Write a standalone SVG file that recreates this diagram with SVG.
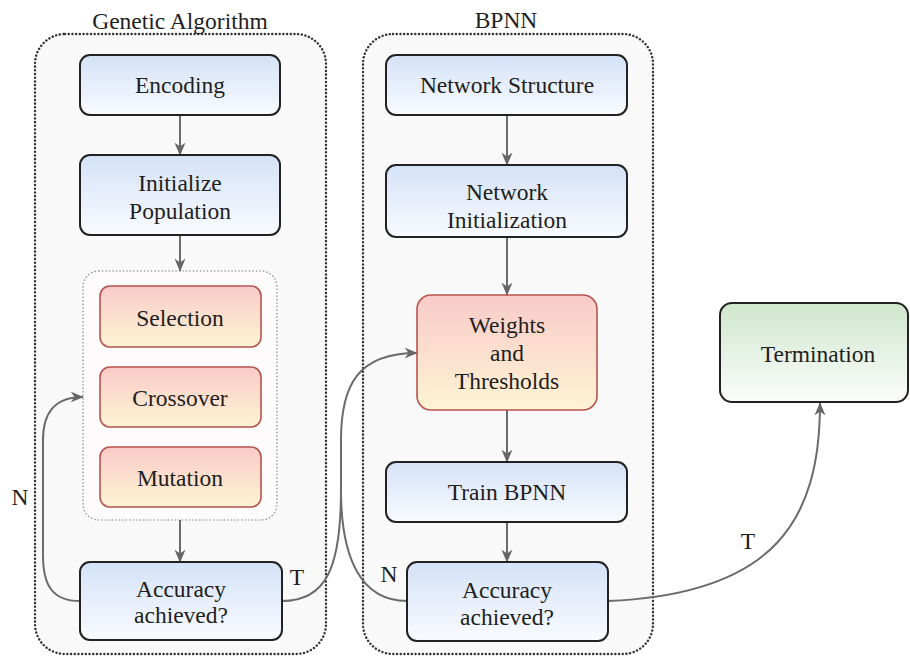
<svg xmlns="http://www.w3.org/2000/svg" width="910" height="657" viewBox="0 0 910 657">
  <defs>
    <linearGradient id="gBlue" x1="0" y1="0" x2="0" y2="1">
      <stop offset="0" stop-color="#d4e2f7"/>
      <stop offset="1" stop-color="#f9fbff"/>
    </linearGradient>
    <linearGradient id="gRed" x1="0" y1="0" x2="0" y2="1">
      <stop offset="0" stop-color="#f8cbc8"/>
      <stop offset="1" stop-color="#fff4d4"/>
    </linearGradient>
    <linearGradient id="gGreen" x1="0" y1="0" x2="0" y2="1">
      <stop offset="0" stop-color="#cfe6cd"/>
      <stop offset="1" stop-color="#fbfdfb"/>
    </linearGradient>
    <marker id="arr" viewBox="0 0 10 10" refX="9.5" refY="5" markerWidth="13" markerHeight="13" orient="auto" markerUnits="userSpaceOnUse">
      <path d="M0,0.8 L10,5 L0,9.2 L3,5 z" fill="#666"/>
    </marker>
  </defs>
  <style>
    text { font-family: 'Liberation Serif', 'Times New Roman', serif; font-size: 23.5px; fill: #1e1e1e; text-anchor: middle; }
    .cont { fill: #f9f9f9; stroke: #333; stroke-width: 2.4; stroke-dasharray: 0.1 3.6; stroke-linecap: round; }
    .inner { fill: #fdfbfb; stroke: #999; stroke-width: 1.6; stroke-dasharray: 0.1 3.4; stroke-linecap: round; }
    .blue { fill: url(#gBlue); stroke: #222; stroke-width: 2; }
    .red { fill: url(#gRed); stroke: #b85450; stroke-width: 1.6; }
    .green { fill: url(#gGreen); stroke: #222; stroke-width: 2; }
    .c { fill: none; stroke: #6b6b6b; stroke-width: 2; }
    .ca { fill: none; stroke: #6b6b6b; stroke-width: 2; marker-end: url(#arr); }
  </style>
  <rect width="910" height="657" fill="#ffffff"/>

  <!-- Containers -->
  <g id="ga-container">
    <rect class="cont" x="35" y="34" width="291" height="620" rx="30" ry="30"/>
    <text x="180" y="29">Genetic Algorithm</text>
  </g>
  <g id="bpnn-container">
    <rect class="cont" x="363" y="34" width="290" height="620" rx="30" ry="30"/>
    <text x="506" y="28">BPNN</text>
  </g>
  <g id="ga-operators">
    <rect class="inner" x="83" y="271" width="194" height="249" rx="16" ry="16"/>
  </g>

  <!-- Connectors -->
  <g id="connectors">
    <path class="ca" d="M180 115 L180 155"/>
    <path class="ca" d="M180 235 L180 271"/>
    <path class="ca" d="M180 520 L180 562"/>
    <path class="ca" d="M507 115 L507 165"/>
    <path class="ca" d="M507 237 L507 295"/>
    <path class="ca" d="M507 410 L507 462"/>
    <path class="ca" d="M507 522 L507 562"/>
    <!-- GA N loop -->
    <path class="ca" d="M80 601 C52 601 43 585 43 555 L43 440 C43 412 55 397 83 397"/>
    <!-- GA T to Weights -->
    <path class="c" d="M282 601 C325 601 341 570 341 490"/>
    <!-- BPNN N loop -->
    <path class="c" d="M407 601 C362 601 341 560 341 490"/>
    <path class="ca" d="M341 490 L341 440 C341 385 358 353 417 353"/>
    <!-- BPNN T to Termination -->
    <path class="ca" d="M608 601 C775 594 820 520 820 403"/>
    <text x="20" y="505">N</text>
    <text x="297" y="585">T</text>
    <text x="389" y="582">N</text>
    <text x="748" y="549">T</text>
  </g>

  <!-- Nodes -->
  <g id="encoding">
    <rect class="blue" x="80" y="55" width="200" height="60" rx="10" ry="10"/>
    <text x="180" y="93">Encoding</text>
  </g>
  <g id="init-population">
    <rect class="blue" x="80" y="155" width="200" height="80" rx="10" ry="10"/>
    <text x="180" y="191">Initialize</text>
    <text x="180" y="219">Population</text>
  </g>
  <g id="selection">
    <rect class="red" x="100" y="286" width="161" height="61" rx="10" ry="10"/>
    <text x="180" y="326">Selection</text>
  </g>
  <g id="crossover">
    <rect class="red" x="100" y="367" width="161" height="60" rx="10" ry="10"/>
    <text x="180" y="406">Crossover</text>
  </g>
  <g id="mutation">
    <rect class="red" x="100" y="447" width="161" height="60" rx="10" ry="10"/>
    <text x="180" y="486">Mutation</text>
  </g>
  <g id="ga-accuracy">
    <rect class="blue" x="80" y="562" width="202" height="78" rx="10" ry="10"/>
    <text x="181" y="597">Accuracy</text>
    <text x="181" y="623">achieved?</text>
  </g>
  <g id="network-structure">
    <rect class="blue" x="386" y="55" width="241" height="60" rx="10" ry="10"/>
    <text x="507" y="93">Network Structure</text>
  </g>
  <g id="network-init">
    <rect class="blue" x="386" y="165" width="241" height="72" rx="10" ry="10"/>
    <text x="507" y="200">Network</text>
    <text x="507" y="228">Initialization</text>
  </g>
  <g id="weights-thresholds">
    <rect class="red" x="417" y="295" width="180" height="115" rx="14" ry="14"/>
    <text x="507" y="333">Weights</text>
    <text x="507" y="361">and</text>
    <text x="507" y="389">Thresholds</text>
  </g>
  <g id="train-bpnn">
    <rect class="blue" x="386" y="462" width="241" height="60" rx="10" ry="10"/>
    <text x="507" y="500">Train BPNN</text>
  </g>
  <g id="bpnn-accuracy">
    <rect class="blue" x="407" y="562" width="201" height="79" rx="10" ry="10"/>
    <text x="507" y="598">Accuracy</text>
    <text x="507" y="625">achieved?</text>
  </g>
  <g id="termination">
    <rect class="green" x="720" y="303" width="188" height="99" rx="12" ry="12"/>
    <text x="818" y="362">Termination</text>
  </g>
</svg>
